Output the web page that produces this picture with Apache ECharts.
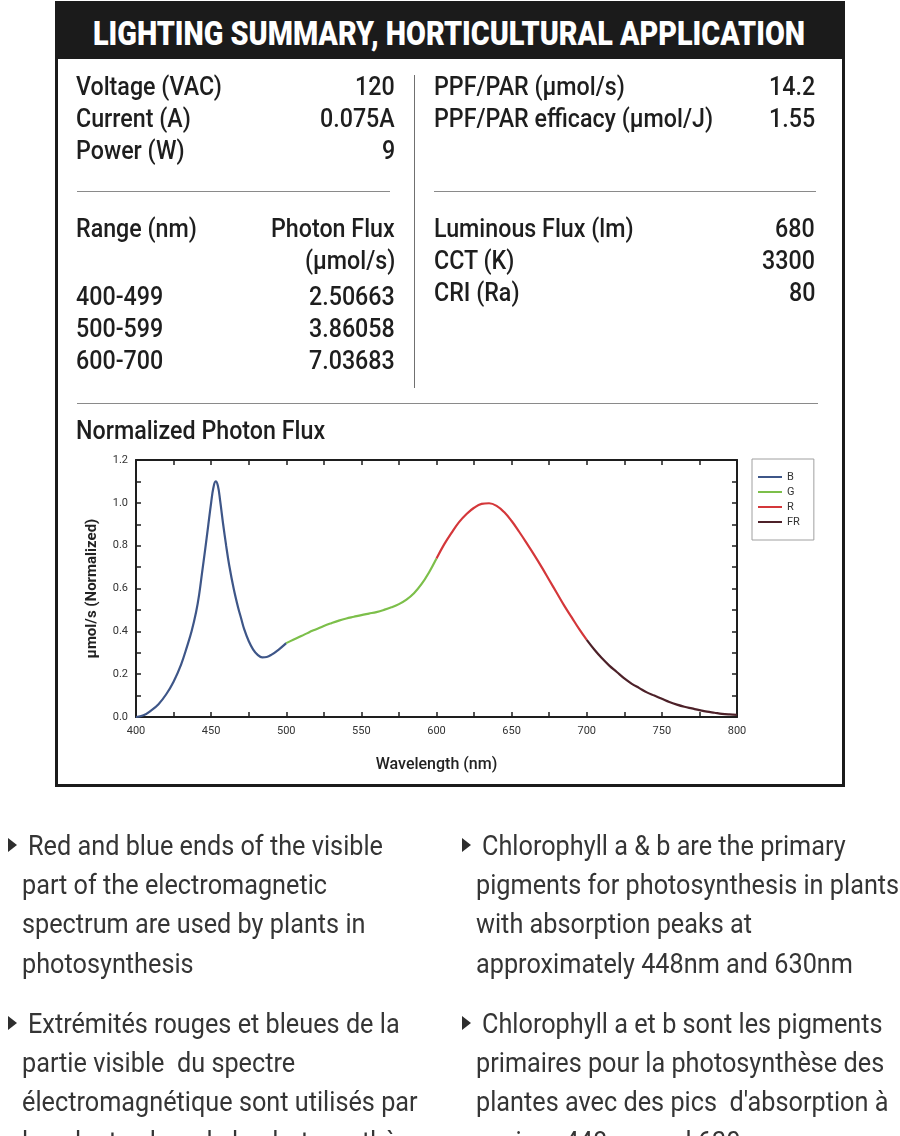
<!DOCTYPE html>
<html><head><meta charset="utf-8">
<script src="https://cdn.jsdelivr.net/npm/echarts@6/dist/echarts.min.js"></script>
<style>
html,body{margin:0;padding:0;background:#fff;width:900px;height:1136px;overflow:hidden;}
#chart{position:absolute;left:0;top:0;width:900px;height:1136px;}
.t{position:absolute;white-space:pre;font-family:Roboto,"Liberation Sans",sans-serif;}
.box{position:absolute;left:55px;top:1px;width:790px;height:786px;border:3px solid #1b1b1b;box-sizing:border-box;}
.hdr{position:absolute;left:55px;top:1px;width:790px;height:58px;background:#1b1b1b;}
.hl{position:absolute;height:0;border-top:1.6px solid #8a8a8a;}
.vl{position:absolute;width:0;border-left:1.6px solid #707070;}
.tri{position:absolute;width:0;height:0;border-left:9px solid #2e2e2e;border-top:7px solid transparent;border-bottom:7px solid transparent;}
</style></head>
<body>
<div id="chart"></div>
<div id="ov"></div>
<script>
// ---------- data ----------
const wlB  = [400,405,410,415,420,425,430,434,437,440,442,444,446,448,450,451.5,453,454.5,456,458,460,462,465,468,470,472,475,478,481,484,487,490,495,500];
const valB = [0.0,0.008,0.03,0.06,0.105,0.165,0.245,0.33,0.4,0.49,0.57,0.675,0.78,0.89,1.0,1.07,1.1,1.08,1.01,0.9,0.8,0.71,0.6,0.51,0.46,0.41,0.355,0.315,0.29,0.278,0.28,0.29,0.315,0.345];
const wlG  = [500,505,510,515,520,525,530,535,540,545,550,555,560,565,570,575,580,585,590,595,600];
const valG = [0.345,0.362,0.378,0.395,0.41,0.425,0.438,0.45,0.46,0.468,0.476,0.483,0.49,0.5,0.512,0.527,0.548,0.578,0.62,0.675,0.74];
const wlR  = [600,605,610,615,620,625,630,635,640,645,650,655,660,665,670,675,680,685,690,695,700];
const valR = [0.74,0.805,0.86,0.91,0.948,0.977,0.995,0.998,0.986,0.957,0.915,0.865,0.812,0.757,0.7,0.64,0.58,0.52,0.465,0.41,0.36];
const wlFR = [700,705,710,715,720,725,730,735,740,745,750,755,760,765,770,775,780,785,790,795,800];
const valFR= [0.36,0.315,0.275,0.24,0.21,0.18,0.155,0.135,0.115,0.1,0.085,0.07,0.058,0.048,0.04,0.032,0.025,0.02,0.015,0.012,0.01];
const seriesNames = ['B','G','R','FR'];

const titleText = 'LIGHTING SUMMARY, HORTICULTURAL APPLICATION';
const specLabelsL = ['Voltage (VAC)','Current (A)','Power (W)'];
const specValsL   = ['120','0.075A','9'];
const specLabelsR = ['PPF/PAR (\u00b5mol/s)','PPF/PAR efficacy (\u00b5mol/J)'];
const specValsR   = ['14.2','1.55'];
const rangeHeader = ['Range (nm)','Photon Flux','(\u00b5mol/s)'];
const rangeLabels = ['400-499','500-599','600-700'];
const rangeFlux   = ['2.50663','3.86058','7.03683'];
const lumLabels   = ['Luminous Flux (lm)','CCT (K)','CRI (Ra)'];
const lumVals     = ['680','3300','80'];
const chartTitle  = 'Normalized Photon Flux';
const para1 = ['Red and blue ends of the visible','part of the electromagnetic','spectrum are used by plants in','photosynthesis'];
const para2 = ['Chlorophyll a & b are the primary','pigments for photosynthesis in plants','with absorption peaks at','approximately 448nm and 630nm'];
const para3 = ['Extr\u00e9mit\u00e9s rouges et bleues de la','partie visible  du spectre','\u00e9lectromagn\u00e9tique sont utilis\u00e9s par','les plantes lors de la photosynth\u00e8se'];
const para4 = ['Chlorophyll a et b sont les pigments','primaires pour la photosynth\u00e8se des','plantes avec des pics  d\'absorption \u00e0','environ 448nm and 630nm'];

// ---------- static layout ----------
const ov = document.getElementById('ov');
function el(cls, css){const d=document.createElement('div');d.className=cls;Object.assign(d.style,css);ov.appendChild(d);return d;}
el('hdr',{}); el('box',{});
el('hl',{left:'77px',top:'191px',width:'313px'});
el('hl',{left:'434px',top:'191px',width:'382px'});
el('hl',{left:'77px',top:'403px',width:'741px'});
el('vl',{left:'414px',top:'75px',height:'313px'});

const styles = {
  title:{fs:32.5,w:900,c:'#ffffff'},
  tab:{fs:25.5,w:500,c:'#1e1e1e'},
  body:{fs:27.5,w:400,c:'#353535'}
};
function mk(str, st){const d=document.createElement('div');d.className='t';d.textContent=str;
  d.style.fontSize=st.fs+'px';d.style.lineHeight=st.fs+'px';d.style.fontWeight=st.w;d.style.color=st.c;
  d.style.transformOrigin='0 0';ov.appendChild(d);return d;}
function scaleFor(str, st, target){const d=mk(str,st);const w=d.getBoundingClientRect().width;d.remove();return target/w;}
styles.title.s = scaleFor(titleText, styles.title, 712);
styles.tab.s   = scaleFor('Voltage (VAC)', styles.tab, 146);
styles.body.s  = scaleFor(para1[0], styles.body, 355);
function txt(str, st, x, base, anchor){const d=mk(str,st);const w=d.getBoundingClientRect().width*st.s;
  d.style.transform='scaleX('+st.s+')';
  let left=x; if(anchor==='right') left=x-w; else if(anchor==='center') left=x-w/2;
  d.style.left=left+'px'; d.style.top=(base-0.8415*st.fs)+'px';}

txt(titleText, styles.title, 449, 45, 'center');
specLabelsL.forEach((s,i)=>{txt(s,styles.tab,76,95+32*i);txt(specValsL[i],styles.tab,395,95+32*i,'right');});
specLabelsR.forEach((s,i)=>{txt(s,styles.tab,434,95+32*i);txt(specValsR[i],styles.tab,815,95+32*i,'right');});
txt(rangeHeader[0],styles.tab,76,237); txt(rangeHeader[1],styles.tab,395,237,'right'); txt(rangeHeader[2],styles.tab,395,269,'right');
rangeLabels.forEach((s,i)=>{txt(s,styles.tab,76,305+32*i);txt(rangeFlux[i],styles.tab,395,305+32*i,'right');});
lumLabels.forEach((s,i)=>{txt(s,styles.tab,434,237+32*i);txt(lumVals[i],styles.tab,815,237+32*i,'right');});
txt(chartTitle,styles.tab,76,439);

function para(lines, x0, x1, b0){lines.forEach((s,i)=>txt(s,styles.body,i===0?x0:x1,b0+39.3*i));
  el('tri',{left:(x0-20)+'px',top:(b0-17)+'px'});}
para(para1,28,22,855); para(para2,482,476,855);
para(para3,28,22,1033); para(para4,482,476,1033);

// ---------- chart ----------
const colors = ['#3e5688','#7cbf4a','#d4373a','#4d2129'];
const chart = echarts.init(document.getElementById('chart'), null, {renderer:'canvas'});
const axLine = {show:true, onZero:false, lineStyle:{color:'#1e1e1e', width:2}};
const tick = {show:true, inside:true, length:5, lineStyle:{color:'#1e1e1e', width:1.5}};
const minor = {show:true, splitNumber:2, length:5, lineStyle:{color:'#1e1e1e', width:1.5}};
const lab = {color:'#333', fontSize:11, fontFamily:'Roboto, sans-serif'};
const sets = [[wlB,valB],[wlG,valG],[wlR,valR],[wlFR,valFR]];
chart.setOption({
  animation:false,
  grid:{left:136, top:460, width:601, height:257},
  legend:{data:seriesNames, orient:'vertical', left:752, top:459, itemWidth:24, itemHeight:2, itemGap:3,
    icon:'rect', padding:[12,14,12,6], borderColor:'#a0a0a0', borderWidth:1,
    textStyle:{color:'#333', fontSize:11, fontFamily:'Roboto, sans-serif', lineHeight:12}},
  xAxis:[
    {type:'value', min:400, max:800, interval:50, position:'bottom', axisLine:axLine, axisTick:tick,
     minorTick:minor, splitLine:{show:false}, axisLabel:Object.assign({margin:9},lab),
     name:'Wavelength (nm)', nameLocation:'middle', nameGap:40,
     nameTextStyle:{color:'#222', fontSize:16, fontWeight:500, fontFamily:'Roboto, sans-serif'}},
    {type:'value', min:400, max:800, interval:50, position:'top', axisLine:axLine, axisTick:tick,
     minorTick:minor, splitLine:{show:false}, axisLabel:{show:false}}
  ],
  yAxis:[
    {type:'value', min:0, max:1.2, interval:0.2, position:'left', axisLine:axLine, axisTick:tick,
     minorTick:minor, splitLine:{show:false},
     axisLabel:Object.assign({margin:8, formatter:v=>v.toFixed(1)},lab),
     name:'\u00b5mol/s (Normalized)', nameLocation:'middle', nameGap:36,
     nameTextStyle:{color:'#222', fontSize:15, fontWeight:'bold', fontFamily:'Roboto, sans-serif'}},
    {type:'value', min:0, max:1.2, interval:0.2, position:'right', axisLine:axLine, axisTick:tick,
     minorTick:minor, splitLine:{show:false}, axisLabel:{show:false}}
  ],
  series: sets.map((d,i)=>({name:seriesNames[i], type:'line', smooth:0.4, symbol:'none',
    color:colors[i], lineStyle:{width:2.2, color:colors[i]},
    data:d[0].map((w,j)=>[w,d[1][j]])}))
});
</script>
</body></html>
